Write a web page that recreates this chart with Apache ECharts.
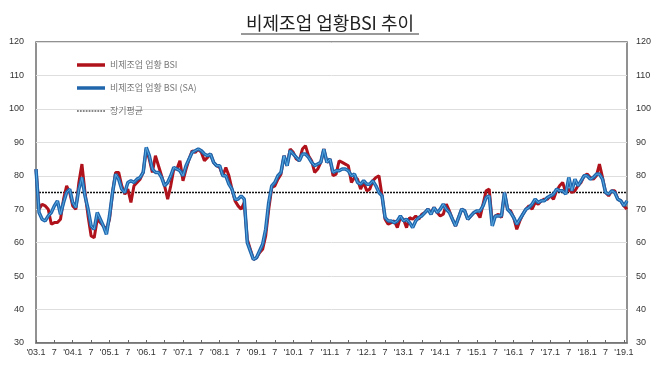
<!DOCTYPE html>
<html>
<head>
<meta charset="utf-8">
<script src="https://cdn.jsdelivr.net/npm/echarts@6/dist/echarts.min.js"></script>
<style>
  html, body { margin: 0; padding: 0; background: #fff; }
  #BsiChart { width: 670px; height: 376px; }
</style>
</head>
<body>
<div id="BsiChart"></div>
<script>
// 비제조업 업황BSI, 2003.1 ~ 2019.2 (월별)
var startYear = 2003;
var monthCount = 194;

var bsiRaw = [
  82, 70, 71.5, 71, 70, 65.5, 66, 66, 67, 73, 77, 75,
  71, 70, 78, 83.5, 75, 68, 62, 61.5, 67, 66, 65, 64,
  67, 75, 81, 81, 77, 74.5, 76, 72, 77, 78, 79, 81,
  88, 85, 81, 86, 83, 80, 77, 73, 77, 82, 82, 84.5,
  78.5, 82, 85, 87.5, 87, 88, 87, 84.5, 85.5, 86.5, 84, 83,
  82.5, 80, 82.5, 80, 76, 72.5, 71, 70, 72, 61, 58, 55,
  55.5, 57, 58, 62, 70, 76.5, 77, 79, 80.5, 86, 83, 88,
  87, 85, 84.5, 88, 89, 86, 84.5, 81, 82, 84, 88, 84,
  85, 80, 80.5, 84.5, 84, 83.5, 83, 78, 79.5, 79, 76, 78,
  75.5, 76, 78.5, 79.5, 80, 74, 67, 65.5, 66, 66.5, 64.5, 67.5,
  67, 64.5, 67.5, 67, 68, 67, 68.5, 69, 70, 69, 70.5, 69,
  68, 68.5, 71.5, 69.5, 67, 65, 67.5, 70, 69.5, 67, 68, 69,
  69, 67.5, 71.5, 75.5, 76, 66, 68, 68.5, 67.5, 75, 70, 69.5,
  67.5, 64, 66.5, 68.5, 70, 71, 70, 72, 71.5, 72.5, 73, 73,
  74, 73, 75.5, 77, 78, 75, 76, 75, 75.5, 77, 78, 80,
  80.5, 79.5, 79, 80, 83.5, 79.5, 75, 74, 75.5, 75.5, 73, 72.5,
  71, 70
];

var bsiSa = [
  82, 69, 67, 66.5, 68, 69, 71, 72.5, 68.5, 72, 75, 76,
  72, 70.5, 76, 79.5, 74, 70, 65, 64, 69, 67, 65, 62.5,
  68, 75, 80.5, 79, 76, 75, 78, 78.5, 78, 79, 79.5, 81,
  88.5, 86, 82, 81, 81, 79.5, 77, 78, 80, 82.5, 82, 81.5,
  80, 83, 85, 87, 87.5, 88, 87.5, 86.5, 86, 86.5, 84, 83,
  83, 80, 80, 77.5, 76, 73, 73, 74, 73, 60, 57.5, 55,
  55.5, 57.5, 59.5, 64, 72, 77, 78, 80, 81, 86, 83, 87.5,
  86.5, 85.5, 84.5, 86.5, 86.5, 85.5, 84, 83, 83.5, 84, 88, 84,
  85, 81, 81.5, 81.5, 82, 82, 81.5, 80, 80.5, 78, 77.5, 78.5,
  77.5, 77.5, 78.5, 77, 75, 74, 67.5, 66.5, 66.5, 66, 66.5, 68,
  66.5, 67, 66, 64.5, 66.5, 67.5, 68, 69, 70, 68.5, 70.5, 69,
  70, 71.5, 70, 69, 67, 65, 67.5, 70, 69.5, 67, 68, 69,
  69.5, 69.5, 71, 73.5, 74, 65, 68, 68, 68, 75, 70, 69,
  67.5, 65.5, 67, 68.5, 70, 70.5, 71.5, 73, 72, 72.5, 72.5, 73.5,
  74, 74.5, 76, 75.5, 75.5, 74.5, 79.5, 75.5, 79, 77, 78.5, 80,
  80, 79, 79.5, 80.5, 80.5, 79, 75, 74.5, 75.5, 75, 73, 72.5,
  71, 72.5
];

var longTermAvg = 75;

var legendNames = ['비제조업 업황 BSI', '비제조업 업황 BSI (SA)', '장기평균'];

// x축 라벨: 'yy.1 과 7 만 표시
var months = [];
for (var i = 0; i < monthCount; i++) {
  var y = startYear + Math.floor(i / 12);
  var m = i % 12 + 1;
  months.push("'" + String(y).slice(2) + '.' + m);
}
var avgLine = months.map(function () { return longTermAvg; });

var labelFont = "'Liberation Sans Narrow', 'Liberation Sans', Arial, sans-serif";
var redColor = '#b0121b';
var blueColor = '#1f66ad';

// 점선 범례 아이콘
var dotIcon = 'path://';
for (var k = 0; k < 10; k++) {
  dotIcon += 'M' + (k * 3) + ',0h1.8v1h-1.8z';
}

var chart = echarts.init(document.getElementById('BsiChart'), null, { renderer: 'canvas' });
chart.setOption({
  backgroundColor: '#fff',
  animation: false,
  graphic: [
    {
      type: 'text',
      x: 330,
      y: 23,
      style: {
        text: '비제조업 업황BSI 추이',
        textAlign: 'center',
        textVerticalAlign: 'middle',
        fontSize: 18,
        fontFamily: "'Noto Sans CJK KR', sans-serif",
        fill: '#222'
      }
    },
    {
      type: 'line',
      shape: { x1: 241, y1: 34, x2: 419, y2: 34 },
      style: { stroke: '#333', lineWidth: 1 }
    }
  ],
  legend: {
    data: [
      { name: legendNames[0], icon: 'rect' },
      { name: legendNames[1], icon: 'rect' },
      { name: legendNames[2], icon: dotIcon }
    ],
    orient: 'vertical',
    left: 72,
    top: 54,
    itemWidth: 28,
    itemHeight: 3.5,
    itemGap: 11,
    textStyle: {
      fontSize: 9,
      lineHeight: 12,
      color: '#777',
      fontFamily: "'Noto Sans CJK KR', sans-serif"
    }
  },
  grid: {
    left: 36,
    right: 43,
    top: 42,
    bottom: 33,
    show: true,
    borderColor: '#6e6e6e',
    borderWidth: 1.5
  },
  xAxis: {
    type: 'category',
    data: months,
    boundaryGap: false,
    axisLine: { lineStyle: { color: '#6e6e6e', width: 1.5 } },
    axisTick: {
      inside: true,
      length: 3,
      interval: 5,
      lineStyle: { color: '#666' }
    },
    axisLabel: {
      interval: 5,
      margin: 5,
      fontSize: 9,
      color: '#333',
      fontFamily: labelFont,
      formatter: function (v) {
        return v.slice(-2) === '.1' && v.length === 5 ? v : v.split('.')[1];
      }
    },
    splitLine: { show: false }
  },
  yAxis: [
    {
      type: 'value',
      min: 30,
      max: 120,
      interval: 10,
      axisLine: { show: false },
      axisTick: { show: false },
      axisLabel: { margin: 12, fontSize: 9, color: '#333', fontFamily: labelFont },
      splitLine: { lineStyle: { color: '#dedede', width: 1 } }
    },
    {
      type: 'value',
      position: 'right',
      min: 30,
      max: 120,
      interval: 10,
      axisLine: { show: false },
      axisTick: { show: false },
      axisLabel: { margin: 9, fontSize: 9, color: '#333', fontFamily: labelFont },
      splitLine: { show: false }
    }
  ],
  series: [
    {
      name: legendNames[2],
      type: 'line',
      data: avgLine,
      symbol: 'none',
      lineStyle: { color: '#111', width: 1.5, type: [2, 1] },
      itemStyle: { color: '#111' },
      z: 1
    },
    {
      name: legendNames[0],
      type: 'line',
      data: bsiRaw,
      symbol: 'none',
      lineStyle: { color: redColor, width: 3 },
      itemStyle: { color: redColor },
      z: 2
    },
    {
      name: legendNames[1],
      type: 'line',
      data: bsiSa,
      symbol: 'none',
      lineStyle: { color: blueColor, width: 3.5 },
      itemStyle: { color: blueColor },
      z: 3
    },
    {
      // SA 선의 밝은 안쪽 줄
      name: 'sa-inner',
      type: 'line',
      data: bsiSa,
      symbol: 'none',
      silent: true,
      lineStyle: { color: '#5aa9e0', width: 1 },
      z: 4
    }
  ]
});
</script>
</body>
</html>
